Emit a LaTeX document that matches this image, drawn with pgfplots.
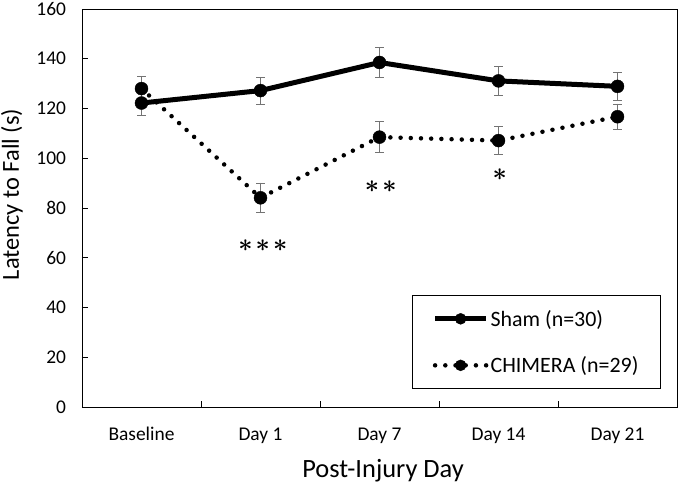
\documentclass[border=0pt]{standalone}
\usepackage{pgfplots}
\usepackage{pgfplotstable}
\pgfplotsset{compat=1.18}
\usepackage{fontspec}
\setmainfont{Carlito}
\DeclareRobustCommand{\bstars}[1]{{\mathversion{bold}$#1$}}
\pgfplotstableread{
x y err
0 122.2 5.0
1 127.2 5.5
2 138.5 6.0
3 131.1 6.0
4 128.9 5.5
}\sham
\pgfplotstableread{
x y err
0 128.0 4.8
1 84.1 5.8
2 108.5 6.2
3 107.1 5.6
4 116.7 5.0
}\chimera
\begin{document}
\begin{tikzpicture}
\begin{axis}[
  name=ax,
  scale only axis, width=595bp, height=398bp,
  xmin=-0.5, xmax=4.5, ymin=0, ymax=160,
  axis line style={line width=0.8bp},
  tick style={line width=0.8bp, black},
  major tick length=6bp,
  tick align=inside,
  xtick pos=bottom, ytick pos=left,
  xtick={0.5,1.5,2.5,3.5}, xticklabels={},
  extra x ticks={0,1,2,3,4},
  extra x tick labels={Baseline,Day 1,Day 7,Day 14,Day 21},
  extra x tick style={major tick length=0pt},
  ytick={0,20,...,160},
  /pgf/number format/assume math mode=true,
  ticklabel style={font=\fontsize{19.5}{23}\selectfont},
  yticklabel style={anchor=east, xshift=-12.5bp},
  xticklabel style={anchor=base, yshift=-33bp},
  xlabel={Post-Injury Day},
  ylabel={Latency to Fall (s)},
  xlabel style={font=\fontsize{26.5}{30}\selectfont, at={(axis description cs:0.506,-0.1759)}, anchor=base},
  ylabel style={font=\fontsize{24.5}{28}\selectfont, at={(axis description cs:-0.1059,0.534)}, anchor=base},
  legend style={at={(axis description cs:0.555,0.281)}, anchor=north west,
    draw=black, line width=0.8bp, font=\fontsize{22}{26}\selectfont,
    inner xsep=20bp, inner ysep=12.5bp, row sep=25bp,
    nodes={inner sep=2bp}},
  legend cell align=left,
  legend image code/.code={
    \draw[#1] (0bp,0bp) -- (51bp,0bp);
    \draw[#1, solid, mark size=5.5bp] plot[mark=*] coordinates {(25.5bp,0bp)};
  },
]
\addplot+[black, line width=5bp, mark=*, mark size=6.5bp, mark options={fill=black, solid, line width=0.4bp},
  error bars/.cd, y dir=both, y explicit,
  error bar style={line width=0.8bp, draw=black!55},
  error mark options={rotate=90, mark size=4.4bp, line width=0.8bp, draw=black!55}]
  table[x=x, y=y, y error=err] {\sham};
\addlegendentry{Sham (n=30)}
\addplot+[black, line width=4.5bp, line cap=round, dash pattern=on 0pt off 10.2bp,
  mark=*, mark size=6.5bp, mark options={fill=black, solid, line width=0.4bp},
  error bars/.cd, y dir=both, y explicit,
  error bar style={line width=0.8bp, draw=black!55, solid},
  error mark options={rotate=90, mark size=4.4bp, line width=0.8bp, draw=black!55, solid}]
  table[x=x, y=y, y error=err] {\chimera};
\addlegendentry{CHIMERA (n=29)}
\node[font=\fontsize{26}{30}\selectfont] at (axis cs:1.02,64.9) {\bstars{\mathord{\ast}\mkern2mu\mathord{\ast}\mkern2mu\mathord{\ast}}};
\node[font=\fontsize{26}{30}\selectfont] at (axis cs:2.01,88.6) {\bstars{\mathord{\ast}\mkern2mu\mathord{\ast}}};
\node[font=\fontsize{26}{30}\selectfont] at (axis cs:3.01,93.3) {\bstars{\mathord{\ast}}};
\end{axis}
\pgfresetboundingbox
\path ([shift={(-82bp,-76bp)}]ax.south west) rectangle ([shift={(3bp,9bp)}]ax.north east);
\end{tikzpicture}
\end{document}
